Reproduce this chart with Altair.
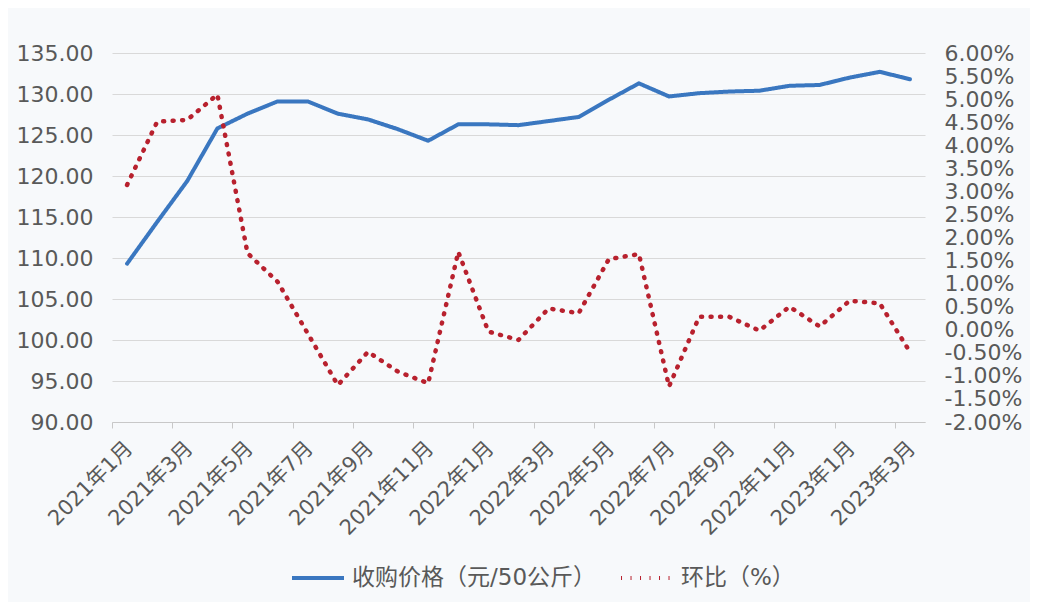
import altair as alt
import pandas as pd

# 月份（横轴）
months = [
    "2021年1月", "2021年2月", "2021年3月", "2021年4月", "2021年5月", "2021年6月",
    "2021年7月", "2021年8月", "2021年9月", "2021年10月", "2021年11月", "2021年12月",
    "2022年1月", "2022年2月", "2022年3月", "2022年4月", "2022年5月", "2022年6月",
    "2022年7月", "2022年8月", "2022年9月", "2022年10月", "2022年11月", "2022年12月",
    "2023年1月", "2023年2月", "2023年3月",
]

# 收购价格（元/50公斤）
price = [109.3, 114.4, 119.4, 125.8, 127.6, 129.1, 129.1, 127.6, 126.9, 125.7,
         124.3, 126.3, 126.3, 126.2, 126.7, 127.2, 129.3, 131.3, 129.7, 130.1,
         130.3, 130.4, 131.0, 131.1, 132.0, 132.7, 131.8]

# 环比（%）
pct = [3.14, 4.51, 4.55, 5.10, 1.66, 1.04, -0.08, -1.20, -0.48, -0.91,
       -1.16, 1.69, -0.04, -0.22, 0.46, 0.36, 1.53, 1.64, -1.23, 0.28,
       0.28, -0.02, 0.50, 0.07, 0.63, 0.57, -0.48]

S_PRICE = "收购价格（元/50公斤）"
S_PCT = "环比（%）"

left_ticks = [90, 95, 100, 105, 110, 115, 120, 125, 130, 135]
right_ticks = [-2.0, -1.5, -1.0, -0.5, 0.0, 0.5, 1.0, 1.5, 2.0, 2.5, 3.0,
               3.5, 4.0, 4.5, 5.0, 5.5, 6.0]

source = pd.DataFrame({
    "month": months * 2,
    "series": [S_PRICE] * len(months) + [S_PCT] * len(months),
    "value": price + pct,
})

FONT = "DejaVu Sans, Noto Sans CJK SC"
GRAY = "#595959"
W, H = 813, 369
half_step = W / len(months) / 2

x_axis = alt.Axis(
    values=months[::2], title=None, labelAngle=315, labelAlign="right",
    labelBaseline="middle", labelFontSize=21, labelPadding=17,
    tickOffset=-half_step, labelOffset=half_step + 2, tickSize=6,
    tickColor="#c8c8c8", domainColor="#c8c8c8", grid=False,
)
x = alt.X("month:N", sort=months, scale=alt.Scale(type="point", padding=0.5), axis=x_axis)

legend = alt.Legend(
    title=None, orient="none", legendX=178, legendY=497, direction="horizontal",
    symbolType="stroke", symbolSize=2700, symbolStrokeWidth=4,
    labelFontSize=23, labelColor=GRAY, labelFont=FONT, labelLimit=0,
    columnPadding=16, labelOffset=6,
)
color = alt.Color("series:N", scale=alt.Scale(domain=[S_PRICE, S_PCT],
                  range=["#3a77c0", "#b8212e"]), legend=legend)
dash = alt.StrokeDash("series:N", scale=alt.Scale(domain=[S_PRICE, S_PCT],
                      range=[[1, 0], [1, 8.5]]), legend=legend)

line_price = alt.Chart(source).transform_filter(
    alt.datum.series == S_PRICE
).mark_line(strokeWidth=4, strokeCap="round", strokeJoin="round").encode(
    x=x,
    y=alt.Y("value:Q", scale=alt.Scale(domain=[90, 135], nice=False, zero=False),
            axis=alt.Axis(values=left_ticks, format=".2f", title=None, orient="left",
                          grid=True, gridColor="#d9d9d9", ticks=False, domain=False,
                          labelPadding=19, labelFontSize=22, labelFlush=False)),
    color=color,
    strokeDash=dash,
)

line_pct = alt.Chart(source).transform_filter(
    alt.datum.series == S_PCT
).mark_line(strokeWidth=4.5, strokeCap="round", strokeJoin="round").encode(
    x=x,
    y=alt.Y("value:Q", scale=alt.Scale(domain=[-2, 6], nice=False, zero=False),
            axis=alt.Axis(values=right_ticks, title=None, orient="right",
                          labelExpr="replace(format(datum.value, '.2f'), '\u2212', '-') + '%'",
                          grid=False, ticks=False, domain=False, labelPadding=19,
                          labelFontSize=22, labelFlush=False, labelOverlap=False)),
    color=color,
    strokeDash=dash,
)

chart = alt.layer(line_price, line_pct).resolve_scale(
    y="independent"
).properties(
    width=W, height=H,
    autosize=alt.AutoSizeParams(type="none"),
    padding={"left": 104, "top": 45, "right": 105, "bottom": 180},
    background="#f7f9fb",
).configure_view(
    stroke=None
).configure_axis(
    labelFont=FONT, labelColor=GRAY
)

chart.save("out.html", embed_options={"renderer": "svg", "actions": False})
